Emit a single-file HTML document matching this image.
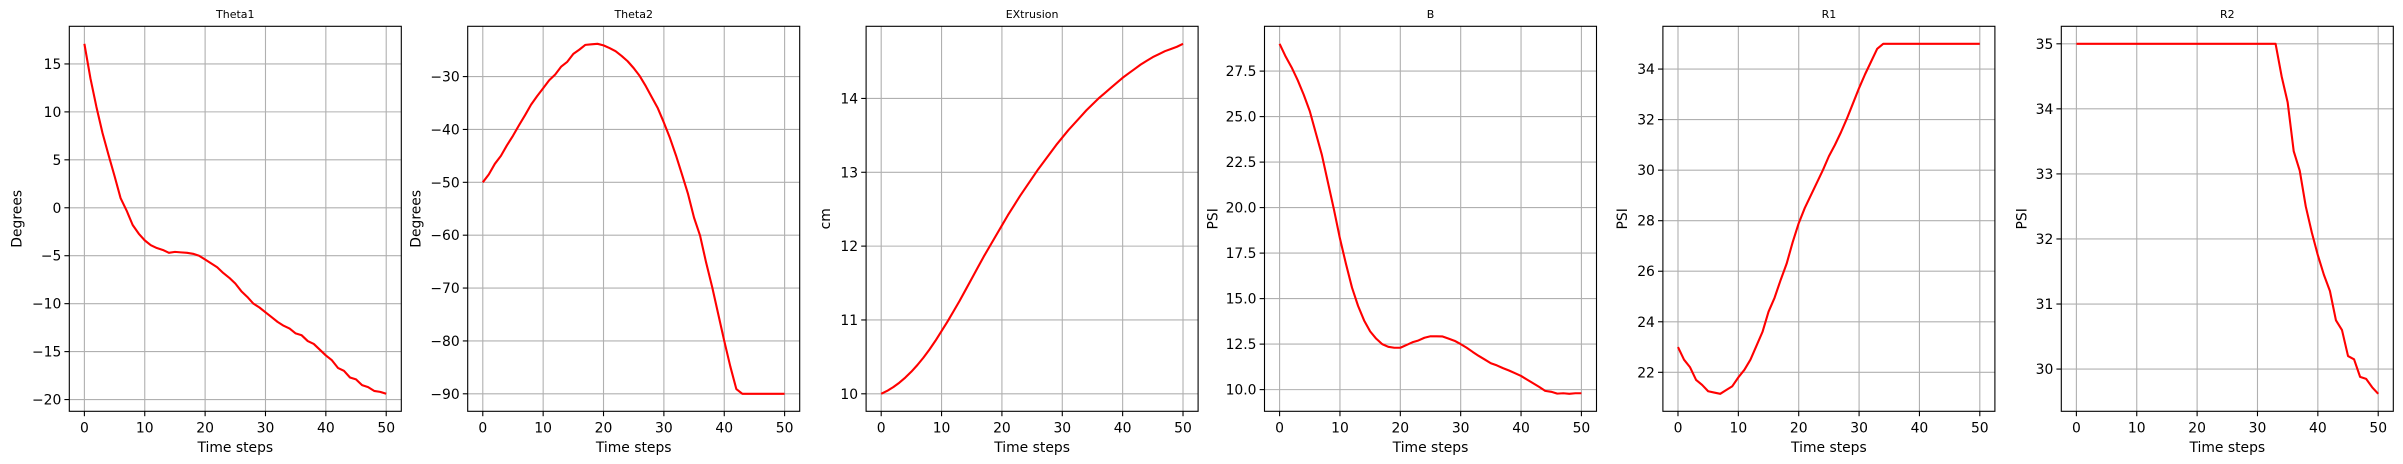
<!DOCTYPE html>
<html><head><meta charset="utf-8"><style>
html,body{margin:0;padding:0;background:#fff;width:2403px;height:464px;overflow:hidden}
svg{display:block;font-family:"DejaVu Sans","Liberation Sans",sans-serif}
</style></head><body>
<svg id="fig" width="2403" height="464" viewBox="0 0 2403 464" xmlns="http://www.w3.org/2000/svg"></svg>
<script>
const timeSteps = Array.from({length:51},(_,i)=>i);
const xTicks = [0,10,20,30,40,50];
const titles = ["Theta1","Theta2","EXtrusion","B","R1","R2"];
const yLabels = ["Degrees","Degrees","cm","PSI","PSI","PSI"];
const theta1 = [17.1,13.5,10.5,7.8,5.5,3.3,1.0,-0.3,-1.8,-2.7,-3.4,-3.9,-4.2,-4.4,-4.7,-4.6,-4.65,-4.7,-4.8,-5.0,-5.4,-5.8,-6.2,-6.8,-7.3,-7.9,-8.7,-9.3,-10.0,-10.4,-10.9,-11.4,-11.9,-12.3,-12.6,-13.1,-13.3,-13.9,-14.2,-14.8,-15.4,-15.9,-16.7,-17.0,-17.7,-17.9,-18.5,-18.7,-19.1,-19.2,-19.4];
const theta2 = [-50,-48.5,-46.5,-45,-43,-41.2,-39.2,-37.3,-35.3,-33.7,-32.2,-30.7,-29.6,-28.1,-27.2,-25.7,-24.9,-24.0,-23.9,-23.8,-24.1,-24.6,-25.2,-26.1,-27.1,-28.4,-29.9,-31.8,-33.9,-36.0,-38.7,-41.6,-44.9,-48.5,-52.2,-56.7,-60.1,-65.2,-69.8,-74.9,-80.0,-84.8,-89.1,-90,-90,-90,-90,-90,-90,-90,-90];
const extrusion = [10.0,10.04,10.09,10.15,10.22,10.3,10.39,10.49,10.6,10.72,10.85,10.98,11.12,11.26,11.41,11.56,11.71,11.86,12.0,12.14,12.28,12.42,12.55,12.68,12.8,12.92,13.04,13.15,13.26,13.37,13.47,13.57,13.66,13.75,13.84,13.92,14.0,14.07,14.14,14.21,14.28,14.34,14.4,14.46,14.51,14.56,14.6,14.64,14.67,14.7,14.74];
const bPsi = [29.0,28.3,27.7,27.0,26.2,25.3,24.1,22.9,21.4,19.9,18.3,16.9,15.6,14.6,13.8,13.2,12.8,12.5,12.35,12.3,12.3,12.45,12.6,12.7,12.85,12.93,12.93,12.92,12.8,12.68,12.5,12.3,12.07,11.85,11.65,11.45,11.33,11.18,11.05,10.9,10.75,10.55,10.35,10.15,9.93,9.88,9.78,9.8,9.77,9.8,9.8];
const r1Psi = [23.0,22.5,22.2,21.7,21.5,21.25,21.2,21.15,21.3,21.45,21.8,22.1,22.5,23.05,23.6,24.4,24.95,25.65,26.3,27.15,27.9,28.5,29.0,29.5,30.0,30.55,31.0,31.5,32.05,32.65,33.25,33.8,34.3,34.8,35,35,35,35,35,35,35,35,35,35,35,35,35,35,35,35,35];
const r2Psi = [35,35,35,35,35,35,35,35,35,35,35,35,35,35,35,35,35,35,35,35,35,35,35,35,35,35,35,35,35,35,35,35,35,35,34.5,34.1,33.35,33.05,32.5,32.1,31.75,31.45,31.2,30.75,30.6,30.2,30.15,29.88,29.85,29.72,29.62];
const seriesList = [theta1,theta2,extrusion,bPsi,r1Psi,r2Psi];
const yTicks = [[-20,-15,-10,-5,0,5,10,15],[-90,-80,-70,-60,-50,-40,-30],[10,11,12,13,14],[10,12.5,15,17.5,20,22.5,25,27.5],[22,24,26,28,30,32,34],[30,31,32,33,34,35]];
const yTickFmt = [v=>String(v),v=>String(v),v=>String(v),v=>v.toFixed(1),v=>String(v),v=>String(v)];
const ylabOff = [53,52,41,52,41,40];

const NS="http://www.w3.org/2000/svg";
const fig=document.getElementById('fig');
function mk(tag,attrs,parent){const e=document.createElementNS(NS,tag);for(const k in attrs)e.setAttribute(k,attrs[k]);(parent||fig).appendChild(e);return e;}
const minus=s=>s.replace(/-/g,'\u2212');
const L0=69.3, STEP=398.4, W=332, TOP=26.3, BOT=411.3;
for(let p=0;p<6;p++){
  const data=seriesList[p];
  const left=L0+p*STEP, right=left+W;
  const g=mk('g',{});
  
  
  let mn=Math.min(...data), mx=Math.max(...data), m=(mx-mn)*0.05;
  const y0=mn-m, y1=mx+m;
  const xs=v=>left+(v+2.5)/55*W;
  const ys=v=>BOT-(v-y0)/(y1-y0)*(BOT-TOP);
  // grid + ticks
  xTicks.forEach(t=>{
    const gl=mk('line',{x1:xs(t),x2:xs(t),y1:TOP,y2:BOT,stroke:'#b0b0b0','stroke-width':1.1},g);
    
    
    mk('line',{x1:xs(t),x2:xs(t),y1:BOT,y2:BOT+4.9,stroke:'#000','stroke-width':1.1},g);
    const tx=mk('text',{x:xs(t),y:BOT+21,'font-size':13.9,'text-anchor':'middle',fill:'#000'},g);
    tx.textContent=String(t);
    
    
  });
  yTicks[p].forEach(t=>{
    const gl=mk('line',{x1:left,x2:right,y1:ys(t),y2:ys(t),stroke:'#b0b0b0','stroke-width':1.1},g);
    
    
    mk('line',{x1:left-4.9,x2:left,y1:ys(t),y2:ys(t),stroke:'#000','stroke-width':1.1},g);
    const tx=mk('text',{x:left-8,y:ys(t)+5,'font-size':13.9,'text-anchor':'end',fill:'#000'},g);
    tx.textContent=minus(yTickFmt[p](t));
    
    
  });
  const pts=data.map((v,i)=>xs(timeSteps[i]).toFixed(2)+','+ys(v).toFixed(2)).join(' ');
  const line=mk('polyline',{points:pts,fill:'none',stroke:'#ff0000','stroke-width':2.1,'stroke-linejoin':'round'},g);
  
  
  const fr=mk('rect',{x:left,y:TOP,width:W,height:BOT-TOP,fill:'none',stroke:'#000','stroke-width':1.1},g);
  
  
  const ti=mk('text',{x:left+W/2,y:18,'font-size':11,'text-anchor':'middle',fill:'#000'},g);
  ti.textContent=titles[p];
  
  
  const xl=mk('text',{x:left+W/2,y:452,'font-size':13.9,'text-anchor':'middle',fill:'#000'},g);
  xl.textContent='Time steps';
  
  
  const cy=(TOP+BOT)/2, cx=left-ylabOff[p]+5;
  const yl=mk('text',{x:cx,y:cy,'font-size':13.9,'text-anchor':'middle',fill:'#000',transform:`rotate(-90 ${cx} ${cy})`},g);
  yl.textContent=yLabels[p];
  
  
}
</script>
</body></html>
